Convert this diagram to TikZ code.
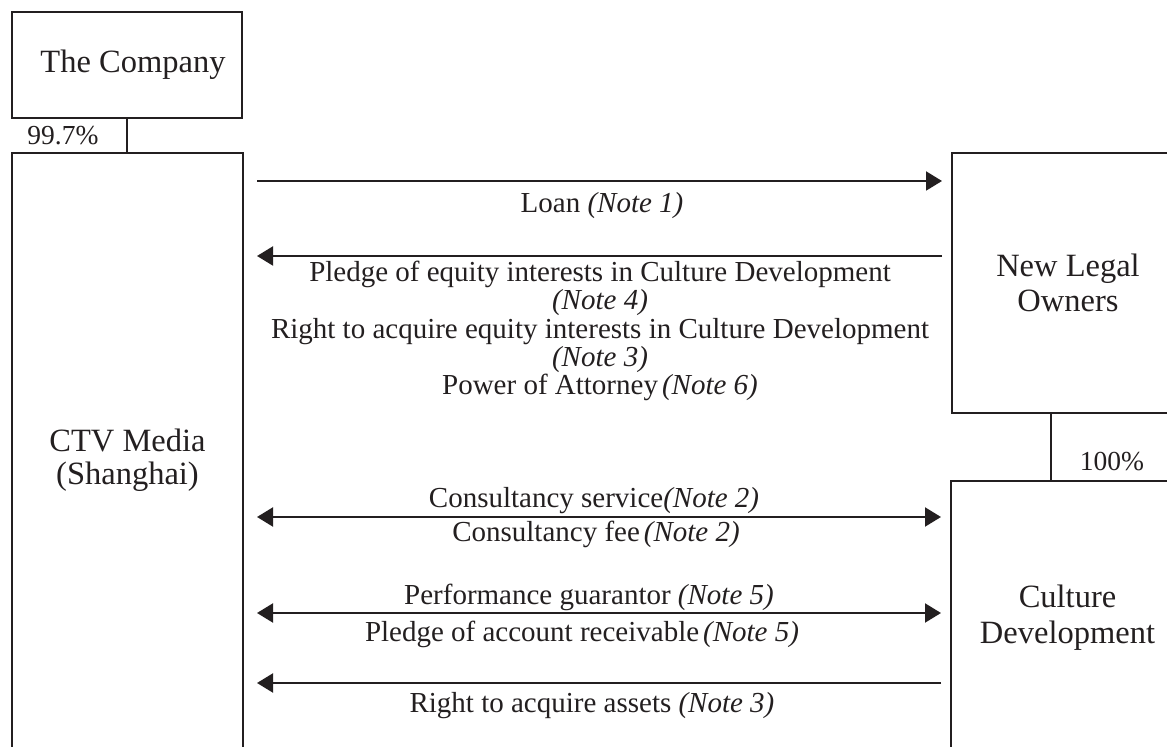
\documentclass[tikz,border=0pt]{standalone}
\usepackage{fontspec}
\setmainfont{Liberation Serif}
\usetikzlibrary{arrows.meta}

\definecolor{InkDark}{HTML}{231F20}

\tikzstyle{entity}=[draw=InkDark, line width=1pt, rectangle, inner sep=0pt, align=center, text=InkDark]
\tikzstyle{link}=[draw=InkDark, line width=1pt]
\tikzstyle{flow}=[link, -{Triangle[length=8pt,width=9.5pt]}]
\tikzstyle{flow-both}=[link, {Triangle[length=8pt,width=9.5pt]}-{Triangle[length=8pt,width=9.5pt]}]
\tikzstyle{flow-label}=[inner sep=0pt, align=center, text=InkDark, font=\fontsize{14.5}{14.15}\selectfont]
\tikzstyle{share}=[inner sep=0pt, text=InkDark, font=\fontsize{13.75}{14}\selectfont]

\begin{document}
\begin{tikzpicture}[x=0.5pt, y=-0.5pt]
      \clip (0,0) rectangle (1167,747);

      % parties
      \node (company) at (127,65) [entity, minimum width=115pt, minimum height=53pt, font=\fontsize{16.25}{17}\selectfont] {\hspace{6pt}The Company};
      \node (ctv) at (127.5,460) [entity, minimum width=115.5pt, minimum height=307pt, font=\fontsize{16.25}{16.75}\selectfont] {CTV Media\\(Shanghai)};
      \node (nlo) at (1068,283) [entity, minimum width=116pt, minimum height=130pt, font=\fontsize{16.25}{17.5}\selectfont] {New Legal\\Owners};
      \node (cd) at (1067.5,618) [entity, minimum width=116.5pt, minimum height=137pt, font=\fontsize{16.25}{18}\selectfont] {Culture\\Development};

      % ownership
      \draw[link] (company.south) -- (company.south |- ctv.north);
      \node (share-ctv) at (63,145) [share, anchor=base] {99.7\%};
      \draw[link] ([xshift=-8.5pt]nlo.south) -- ([xshift=-8.5pt]nlo.south |- cd.north);
      \node (share-cd) at (1112,471) [share, anchor=base] {100\%};

      % contract rows
      \coordinate (ctv-out) at ([xshift=6.5pt]ctv.east);
      \coordinate (nlo-in) at ([xshift=-4.5pt]nlo.west);
      \coordinate (cd-in) at ([xshift=-4.5pt]cd.west);
      \coordinate (row-loan) at (600,181);
      \coordinate (row-pledge) at (600,256);
      \coordinate (row-consult) at (600,517);
      \coordinate (row-perform) at (600,613);
      \coordinate (row-assets) at (600,683);

      \draw[flow] (ctv-out |- row-loan) -- (nlo-in |- row-loan);
      \draw[flow] (nlo-in |- row-pledge) -- (ctv-out |- row-pledge);
      \draw[flow-both] (ctv-out |- row-consult) -- (cd-in |- row-consult);
      \draw[flow-both] (ctv-out |- row-perform) -- (cd-in |- row-perform);
      \draw[flow] (cd-in |- row-assets) -- (ctv-out |- row-assets);

      \node (label-loan) at (602,213) [flow-label, anchor=base] {Loan \textit{(Note 1)}};
      \node (label-pledge) at (600,331) [flow-label] {Pledge of equity interests in Culture Development\\\textit{(Note 4)}\\Right to acquire equity interests in Culture Development\\\textit{(Note 3)}\\Power of Attorney\hspace{2pt}\textit{(Note 6)}};
      \node (label-service) at (594,508) [flow-label, anchor=base] {Consultancy service\textit{(Note 2)}};
      \node (label-fee) at (596,542) [flow-label, anchor=base] {Consultancy fee\hspace{2pt}\textit{(Note 2)}};
      \node (label-guarantor) at (589,605) [flow-label, anchor=base] {Performance guarantor \textit{(Note 5)}};
      \node (label-receivable) at (582,642) [flow-label, anchor=base] {Pledge of account receivable\hspace{2pt}\textit{(Note 5)}};
      \node (label-assets) at (592,712) [flow-label, anchor=base] {Right to acquire assets \textit{(Note 3)}};
    \end{tikzpicture}
\end{document}
